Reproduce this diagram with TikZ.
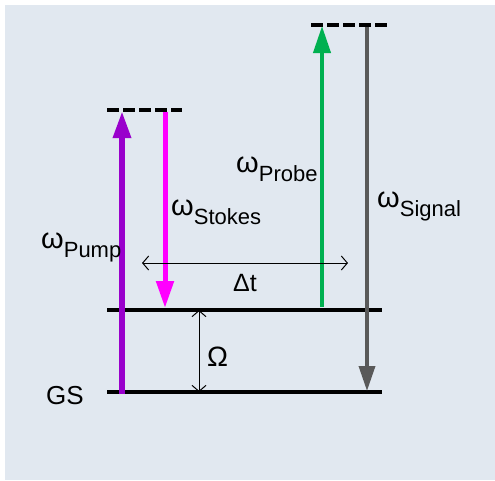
\documentclass[tikz,border=0pt]{standalone}
\usepackage{fontspec}
\setmainfont{Liberation Sans}
\usetikzlibrary{arrows.meta, positioning}
\definecolor{bgblue}{HTML}{E1E8F0}
\definecolor{pumpcol}{HTML}{9900CC}
\definecolor{stokescol}{HTML}{FF00FF}
\definecolor{probecol}{HTML}{00B050}
\definecolor{signalcol}{HTML}{595959}
\newcommand{\freq}[1]{{\fontsize{29}{29}\selectfont ω}\raisebox{-9pt}{\fontsize{22}{22}\selectfont #1}}

\begin{document}
\begin{tikzpicture}[
  x=1pt, y=-1pt,
  level/.style={line width=4.5pt},
  virtual/.style={line width=4pt, dash pattern=on 12pt off 4pt},
  beam/.style={-{Triangle[length=27pt,width=17pt]}},
  delay/.style={{Straight Barb[length=6pt,width=14pt]}-{Straight Barb[length=6pt,width=14pt]}, line width=1pt},
  lbl/.style={inner sep=0pt, anchor=base west, font=\fontsize{26}{26}\selectfont}
]
\useasboundingbox (0,0) rectangle (495,480);
\fill[bgblue] (5,5) rectangle (495,480);

% levels
\coordinate (gsL) at (107,392);
\coordinate (gsR) at (382,392);
\coordinate (vibL) at (107,310);
\coordinate (vibR) at (382,310);
\coordinate (v1L) at (107,110);
\coordinate (v1R) at (182,110);
\coordinate (v2L) at (311,25);
\coordinate (v2R) at (387,25);

\draw[level] (gsL) -- (gsR);
\draw[level] (vibL) -- (vibR);
\draw[virtual] (v1L) -- (v1R);
\draw[virtual] (v2L) -- (v2R);

% beams
\coordinate (pumpA) at (122,394);
\coordinate (pumpB) at (122,111);
\coordinate (stokesA) at (165,112);
\coordinate (stokesB) at (165,308);
\coordinate (probeA) at (322,307);
\coordinate (probeB) at (322,26);
\coordinate (signalA) at (367,27);
\coordinate (signalB) at (367,391);

\draw[beam, pumpcol, line width=6pt] (pumpA) -- (pumpB);
\draw[beam, stokescol, line width=5pt] (stokesA) -- (stokesB);
\draw[beam, probecol, line width=4pt] (probeA) -- (probeB);
\draw[beam, signalcol, line width=3.5pt, -{Triangle[length=25pt,width=16pt]}] (signalA) -- (signalB);

% delay and shift
\coordinate (dtL) at (142,263);
\coordinate (dtR) at (348,263);
\coordinate (omT) at (199,310);
\coordinate (omB) at (199,392);
\draw[delay] (dtL) -- (dtR);
\draw[delay] (omT) -- (omB);

% labels
\node[lbl] (pump) at (41,248) {\freq{Pump}};
\node[lbl] (stokes) at (171,215) {\freq{Stokes}};
\node[lbl] (probe) at (236,172) {\freq{Probe}};
\node[lbl] (signal) at (377,207) {\freq{Signal}};
\node[lbl] (gs) at (46,404) {GS};
\node[lbl, font=\fontsize{28}{28}\selectfont] (omega) at (207,366) {Ω};
\node[lbl, anchor=base, font=\fontsize{25}{25}\selectfont] (dt) at (245,291) {Δt};
\end{tikzpicture}
\end{document}
